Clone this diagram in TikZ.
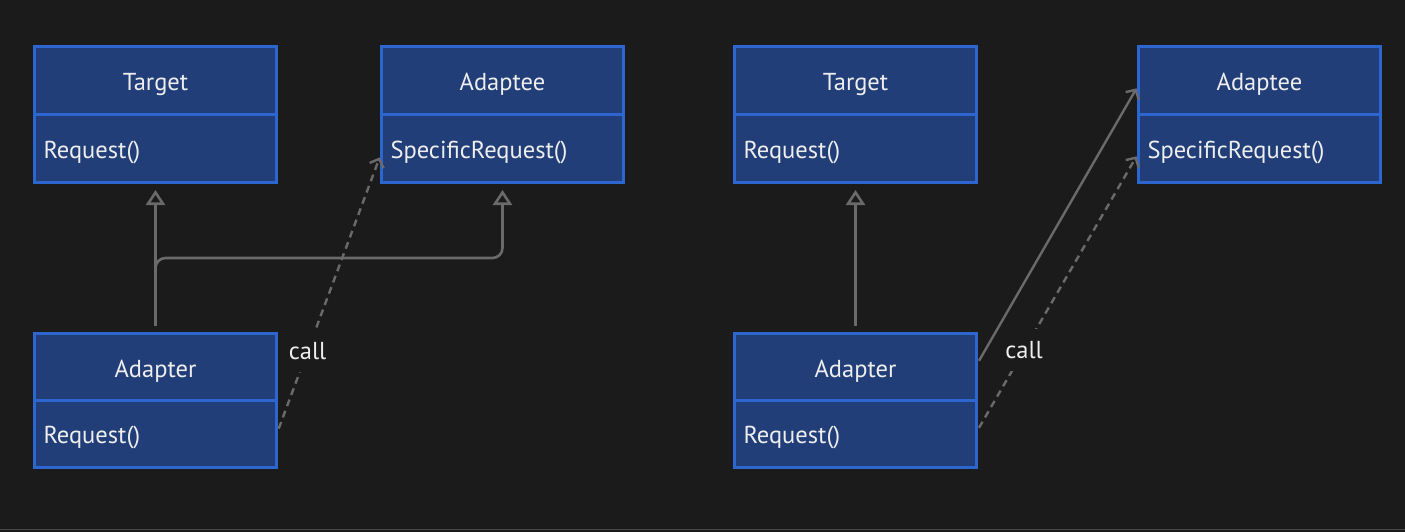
\documentclass[tikz,border=0pt]{standalone}
\usepackage{fontspec}
\setmainfont{PT Sans}
\usetikzlibrary{arrows.meta,calc}
\definecolor{bg}{HTML}{1B1B1B}
\definecolor{boxfill}{HTML}{213E78}
\definecolor{boxline}{HTML}{2E66D0}
\definecolor{txt}{HTML}{EEEEEE}
\definecolor{conn}{HTML}{6A6A6A}
\definecolor{rule}{HTML}{4A4A4A}
\tikzset{
  hdr/.style={draw=boxline, fill=boxfill, line width=3pt, minimum width=242pt, minimum height=68pt, text=txt, font=\fontsize{24.5}{28}\selectfont, inner sep=0pt, text height=21pt, text depth=0pt},
  bdy/.style={hdr, text width=224pt, inner xsep=9pt, align=left, text height=20pt},
  gen/.style={draw=conn, line width=2.6pt, -{Triangle[open, length=15pt, width=19pt, line width=2.6pt]}},
  assoc/.style={draw=conn, line width=2.4pt, -{Straight Barb[length=7pt, width=15pt, line width=2.4pt]}},
  dep/.style={assoc, dash pattern=on 7pt off 5pt},
  lbl/.style={fill=bg, text=txt, font=\fontsize{24.5}{28}\selectfont, inner xsep=3pt, inner ysep=12pt}
}
\begin{document}
\begin{tikzpicture}[x=1pt, y=-1pt]
\fill[bg] (0,0) rectangle (1405,532);
\useasboundingbox (0,0) rectangle (1405,532);
\draw[rule, line width=1pt] (0,529) -- (1405,529);

% left diagram
\node[hdr] (tL) at (155.5,80.5) {Target};
\node[bdy] (tLb) at (155.5,148.5) {Request()};
\node[hdr] (aeL) at (502.5,80.5) {Adaptee};
\node[bdy] (aeLb) at (502.5,148.5) {SpecificRequest()};
\node[hdr, minimum height=67pt] (adL) at (155.5,366.5) {Adapter};
\node[bdy, minimum height=67pt] (adLb) at (155.5,433.5) {Request()};
\coordinate (jL) at (0,258);

\draw[gen, shorten <=6pt, shorten >=6pt] (adL.north) -- (tLb.south);
\draw[gen, rounded corners=10pt, shorten <=6pt, shorten >=6pt] (adL.north) -- (adL.north |- jL) -| (aeLb.south);
\draw[dep, shorten <=2pt, shorten >=1pt] ([yshift=3pt]adLb.east) -- node[lbl, pos=0.29] (cL) {call} ([yshift=-8pt]aeLb.west);

% right diagram
\node[hdr] (tR) at (855.5,80.5) {Target};
\node[bdy] (tRb) at (855.5,148.5) {Request()};
\node[hdr] (aeR) at (1259.5,80.5) {Adaptee};
\node[bdy] (aeRb) at (1259.5,148.5) {SpecificRequest()};
\node[hdr, minimum height=67pt] (adR) at (855.5,366.5) {Adapter};
\node[bdy, minimum height=67pt] (adRb) at (855.5,433.5) {Request()};

\draw[gen, shorten <=6pt, shorten >=6pt] (adR.north) -- (tRb.south);
\draw[assoc, shorten <=2pt, shorten >=1pt] ([yshift=4pt]adR.east) -- ([yshift=-7pt]aeR.west);
\draw[dep, shorten <=2pt, shorten >=1pt] ([yshift=4pt]adRb.east) -- node[lbl, pos=0.29] (cR) {call} ([yshift=-7pt]aeRb.west);
\end{tikzpicture}
\end{document}
